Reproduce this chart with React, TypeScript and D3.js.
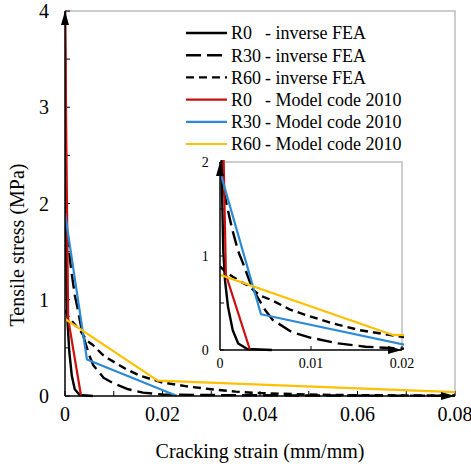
import React, { useRef, useEffect } from "react";
import { select, scaleLinear, line, range } from "d3";

// series data (strain mm/mm, stress MPa)
const strainR0Fea = [0, 0.0001, 0.0002, 0.00036, 0.00055, 0.00088, 0.0014, 0.002, 0.003, 0.0057];
const stressR0Fea = [4.0, 2.9, 1.8, 1.06, 0.74, 0.46, 0.21, 0.07, 0.01, 0];

const strainR30Fea = [0, 0.0005, 0.0013, 0.002, 0.0025, 0.0033, 0.004, 0.005, 0.0058, 0.0079, 0.01, 0.013, 0.016, 0.02, 0.03, 0.05, 0.08];
const stressR30Fea = [1.92, 1.65, 1.3, 1.05, 0.93, 0.72, 0.58, 0.42, 0.32, 0.19, 0.13, 0.07, 0.035, 0.015, 0.01, 0.005, 0.003];

const strainR60Fea = [0, 0.0006, 0.0014, 0.0024, 0.003, 0.0044, 0.0057, 0.0077, 0.0095, 0.0125, 0.0154, 0.02, 0.025, 0.03, 0.035, 0.04, 0.05, 0.06, 0.08];
const stressR60Fea = [0.89, 0.83, 0.78, 0.72, 0.69, 0.58, 0.53, 0.43, 0.37, 0.28, 0.21, 0.14, 0.1, 0.07, 0.045, 0.03, 0.015, 0.008, 0.005];

const strainR0Mc = [0, 0.00065, 0.0033];
const stressR0Mc = [4.0, 0.8, 0];
const strainR30Mc = [0, 0.0045, 0.023];
const stressR30Mc = [1.9, 0.38, 0];
const strainR60Mc = [0, 0.019, 0.08];
const stressR60Mc = [0.8, 0.16, 0.04];

const seriesNames = ["R0", "R30", "R60", "R0", "R30", "R60"];
const seriesSuffix = ["- inverse FEA", "- inverse FEA", "- inverse FEA", "- Model code 2010", "- Model code 2010", "- Model code 2010"];

const xTickLabels = ["0", "0.02", "0.04", "0.06", "0.08"];
const yTickLabels = ["0", "1", "2", "3", "4"];
const insetXTickLabels = ["0", "0.01", "0.02"];
const insetYTickLabels = ["0", "1", "2"];

const FONT = "'Liberation Serif', 'Times New Roman', serif";

export default function App() {
  const svgRef = useRef<SVGSVGElement>(null);

  useEffect(() => {
    const svg = select(svgRef.current);
    svg.selectAll("*").remove();

    const series = [
      { x: strainR0Fea, y: stressR0Fea, color: "#000", width: 2.4, dash: null },
      { x: strainR30Fea, y: stressR30Fea, color: "#000", width: 2.4, dash: "15,6" },
      { x: strainR60Fea, y: stressR60Fea, color: "#000", width: 2.4, dash: "8,5" },
      { x: strainR0Mc, y: stressR0Mc, color: "#cc1010", width: 2.2, dash: null },
      { x: strainR30Mc, y: stressR30Mc, color: "#2b8ad6", width: 2.2, dash: null },
      { x: strainR60Mc, y: stressR60Mc, color: "#ffc000", width: 2.2, dash: null },
    ];

    const defs = svg.append("defs");
    defs.append("marker")
      .attr("id", "arrow")
      .attr("viewBox", "0 0 14 8")
      .attr("refX", 14).attr("refY", 4)
      .attr("markerWidth", 14).attr("markerHeight", 8)
      .attr("markerUnits", "userSpaceOnUse")
      .attr("orient", "auto")
      .append("path").attr("d", "M0,0L14,4L0,8Z").attr("fill", "#000");

    const drawPanel = (
      x: any, y: any, xTicks: number[], xLabels: string[], yTicks: number[], yLabels: string[],
      fontSize: number, clipId: string, tick: number
    ) => {
      const [x0, x1] = x.range();
      const [y0, y1] = y.range();
      const g = svg.append("g");
      g.append("rect").attr("x", x0).attr("y", y1).attr("width", x1 - x0).attr("height", y0 - y1).attr("fill", "#fff");
      g.append("path")
        .attr("d", `M${x0},${y1}H${x1}V${y0}`)
        .attr("fill", "none").attr("stroke", "#bfbfbf").attr("stroke-width", 1.5);

      defs.append("clipPath").attr("id", clipId)
        .append("rect").attr("x", x0).attr("y", y1 - 2).attr("width", x1 - x0 + 2).attr("height", y0 - y1 + 4);

      // ticks (inside)
      g.selectAll(".xt").data(xTicks).join("line")
        .attr("x1", (d) => x(d)).attr("x2", (d) => x(d))
        .attr("y1", y0).attr("y2", y0 - tick)
        .attr("stroke", "#000").attr("stroke-width", 1);
      g.selectAll(".yt").data(yTicks).join("line")
        .attr("x1", x0).attr("x2", x0 + tick)
        .attr("y1", (d) => y(d)).attr("y2", (d) => y(d))
        .attr("stroke", "#000").attr("stroke-width", 1);

      const lines = g.append("g").attr("clip-path", `url(#${clipId})`);
      series.forEach((s) => {
        const pts = s.x.map((v, i) => [v, s.y[i]] as [number, number]);
        lines.append("path")
          .attr("d", line().x((d) => x(d[0])).y((d) => y(d[1]))(pts))
          .attr("fill", "none")
          .attr("stroke", s.color)
          .attr("stroke-width", s.width)
          .attr("stroke-dasharray", s.dash)
          .attr("stroke-linejoin", "round");
      });

      // axes with arrow heads
      g.append("line").attr("x1", x0).attr("x2", x1).attr("y1", y0).attr("y2", y0)
        .attr("stroke", "#000").attr("stroke-width", 1.5).attr("marker-end", "url(#arrow)");
      g.append("line").attr("x1", x0).attr("x2", x0).attr("y1", y0).attr("y2", y1)
        .attr("stroke", "#000").attr("stroke-width", 1.5).attr("marker-end", "url(#arrow)");

      g.selectAll(".xl").data(xLabels).join("text")
        .attr("x", (d) => x(+d)).attr("y", y0 + fontSize * 1.25)
        .attr("text-anchor", "middle")
        .attr("font-family", FONT).attr("font-size", fontSize)
        .text((d) => d);
      g.selectAll(".yl").data(yLabels).join("text")
        .attr("x", x0 - fontSize * 0.8).attr("y", (d) => y(+d))
        .attr("dy", "0.35em")
        .attr("text-anchor", "end")
        .attr("font-family", FONT).attr("font-size", fontSize)
        .text((d) => d);
    };

    // main panel
    const x = scaleLinear().domain([0, 0.08]).range([65, 455]);
    const y = scaleLinear().domain([0, 4]).range([396, 11]);
    drawPanel(x, y, range(0, 0.0801, 0.01), xTickLabels, range(0, 4.01, 0.5), yTickLabels, 20, "clipMain", 5);

    // legend
    const legend = svg.append("g");
    series.forEach((s, i) => {
      const ly = 33 + i * 22.2;
      legend.append("line")
        .attr("x1", 186).attr("x2", 227).attr("y1", ly).attr("y2", ly)
        .attr("stroke", s.color).attr("stroke-width", s.width)
        .attr("stroke-dasharray", s.dash);
      legend.append("text")
        .attr("x", 231).attr("y", ly).attr("dy", "0.35em")
        .attr("font-family", FONT).attr("font-size", 18)
        .text(seriesNames[i]);
      legend.append("text")
        .attr("x", 265).attr("y", ly).attr("dy", "0.35em")
        .attr("font-family", FONT).attr("font-size", 18)
        .text(seriesSuffix[i]);
    });

    // inset
    const xi = scaleLinear().domain([0, 0.02]).range([220, 402]);
    const yi = scaleLinear().domain([0, 2]).range([350, 162]);
    drawPanel(xi, yi, [0.01, 0.02], insetXTickLabels, range(0, 2.01, 0.5), insetYTickLabels, 14, "clipInset", 4);

    // axis titles
    svg.append("text")
      .attr("x", 260).attr("y", 458)
      .attr("text-anchor", "middle")
      .attr("font-family", FONT).attr("font-size", 20)
      .text("Cracking strain (mm/mm)");
    svg.append("text")
      .attr("transform", "translate(24,245) rotate(-90)")
      .attr("text-anchor", "middle")
      .attr("font-family", FONT).attr("font-size", 20)
      .text("Tensile stress (MPa)");
  }, []);

  return (
    <svg
      ref={svgRef}
      width={471}
      height={467}
      style={{ position: "absolute", left: 0, top: 0, background: "#fff" }}
    />
  );
}
